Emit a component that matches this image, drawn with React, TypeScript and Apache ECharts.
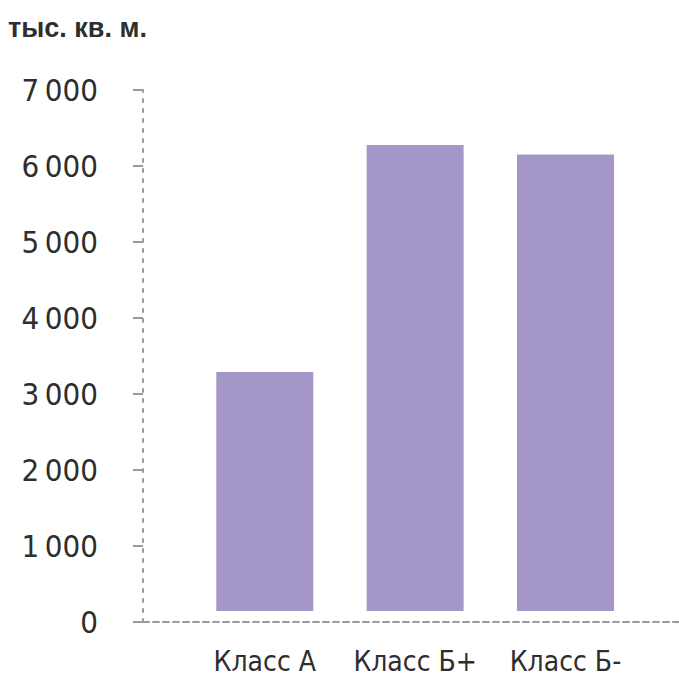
import React, { useEffect, useRef } from "react";
import * as echarts from "echarts";

// Office stock by class, thousand sq. m.
const categories = ["Класс А", "Класс Б+", "Класс Б-"];
const values = [3290, 6275, 6150];
const yTicks = [0, 1000, 2000, 3000, 4000, 5000, 6000, 7000];
const unitLabel = "тыс. кв. м.";

const BAR_COLOR = "#a497c8";
const AXIS_COLOR = "#9a9a9a";
const TEXT_COLOR = "#2e2e2e";
const NARROW = '"DejaVu Sans Condensed", "Liberation Sans Narrow", sans-serif';

// thousands separated by a thin space: 7000 -> "7 000"
const fmt = (v: number) => String(v).replace(/\B(?=(\d{3})+(?!\d))/g, "\u2009");

export default function App() {
  const ref = useRef<HTMLDivElement>(null);

  useEffect(() => {
    if (!ref.current) return;
    const chart = echarts.init(ref.current, undefined, { renderer: "svg" });

    chart.setOption({
      animation: false,
      backgroundColor: "#ffffff",
      title: {
        text: unitLabel,
        left: 3,
        top: 9,
        textStyle: {
          fontFamily: '"Liberation Sans", Arial, sans-serif',
          fontWeight: "bold",
          fontSize: 27,
          color: TEXT_COLOR,
        },
      },
      grid: { left: 143, right: 0, top: 90, bottom: 58 },
      xAxis: {
        type: "value",
        min: -0.81,
        max: 2.755,
        splitLine: { show: false },
        axisTick: { show: false },
        axisLine: {
          show: true,
          lineStyle: { color: AXIS_COLOR, width: 2, type: [6, 4] },
        },
        axisLabel: {
          customValues: categories.map((_, i) => i),
          formatter: (v: number) => categories[Math.round(v)] ?? "",
          margin: 25,
          fontFamily: NARROW,
          fontSize: 28,
          lineHeight: 28,
          color: TEXT_COLOR,
        },
      },
      yAxis: {
        type: "value",
        min: 0,
        max: 7000,
        interval: 1000,
        splitLine: { show: false },
        axisLine: {
          show: true,
          onZero: false,
          lineStyle: { color: AXIS_COLOR, width: 2, type: [3, 7] },
        },
        axisTick: {
          show: true,
          length: 10,
          lineStyle: { color: AXIS_COLOR, width: 2 },
        },
        axisLabel: {
          customValues: yTicks,
          formatter: (v: number) => fmt(v),
          margin: 45,
          fontFamily: NARROW,
          fontSize: 31,
          color: TEXT_COLOR,
        },
      },
      series: [
        {
          type: "custom",
          data: values.map((v, i) => [i, v]),
          renderItem: (params: any, api: any) => {
            const x = api.value(0);
            const v = api.value(1);
            const top = api.coord([x, v]);
            const base = api.coord([x, 0]);
            const w = api.size([1, 0])[0] * 0.645;
            // bars stop a little short of the zero line
            const lift = 11;
            return {
              type: "rect",
              shape: {
                x: top[0] - w / 2,
                y: top[1],
                width: w,
                height: base[1] - top[1] - lift,
              },
              style: { fill: BAR_COLOR },
            };
          },
        },
      ],
    });

    return () => chart.dispose();
  }, []);

  return (
    <div
      ref={ref}
      style={{ width: 679, height: 680, position: "absolute", left: 0, top: 0 }}
    />
  );
}
